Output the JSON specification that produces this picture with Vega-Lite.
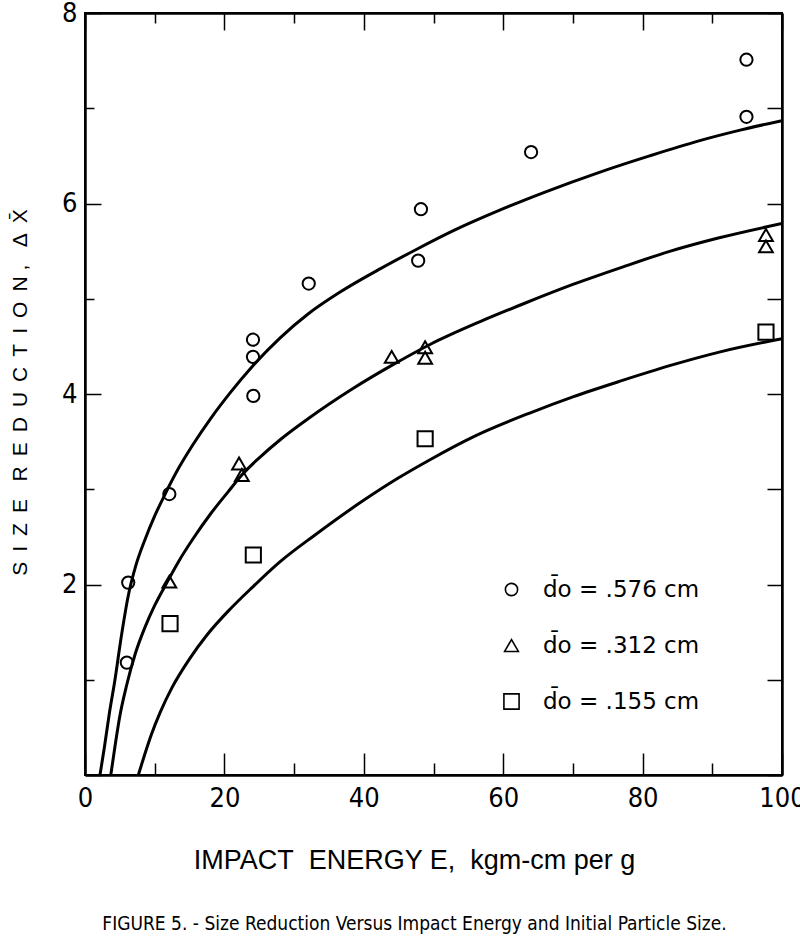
{
  "$schema": "https://vega.github.io/schema/vega-lite/v6.json",
  "width": 697,
  "height": 762,
  "autosize": "none",
  "padding": {"left": 85, "top": 13, "right": 18, "bottom": 167},
  "background": "white",
  "title": {
    "text": "FIGURE 5. - Size Reduction Versus Impact Energy and Initial Particle Size.",
    "orient": "bottom",
    "anchor": "middle",
    "font": "DejaVu Sans Condensed, DejaVu Sans",
    "fontSize": 19,
    "fontWeight": "normal",
    "color": "black",
    "offset": 42,
    "dx": -19
  },
  "config": {
    "view": {"stroke": "black", "strokeWidth": 2},
    "axis": {
      "domainColor": "black",
      "domainWidth": 2.5,
      "tickColor": "black",
      "tickWidth": 1.5,
      "labelColor": "black",
      "titleColor": "black",
      "grid": false,
      "labelOverlap": false,
      "labelFlush": false
    }
  },
  "datasets": {
    "curves": [
      {"c": "A", "e": 2.15, "dx": 0}, {"c": "A", "e": 2.8, "dx": 0.3}, {"c": "A", "e": 3.5, "dx": 0.65},
      {"c": "A", "e": 4.3, "dx": 1.0}, {"c": "A", "e": 5.2, "dx": 1.45}, {"c": "A", "e": 6.2, "dx": 1.88},
      {"c": "A", "e": 7.3, "dx": 2.2}, {"c": "A", "e": 8.6, "dx": 2.47}, {"c": "A", "e": 10, "dx": 2.72},
      {"c": "A", "e": 11.5, "dx": 2.95}, {"c": "A", "e": 13.5, "dx": 3.23}, {"c": "A", "e": 15.5, "dx": 3.47},
      {"c": "A", "e": 18, "dx": 3.74}, {"c": "A", "e": 20.9, "dx": 4.02}, {"c": "A", "e": 24, "dx": 4.29},
      {"c": "A", "e": 28, "dx": 4.59}, {"c": "A", "e": 32, "dx": 4.84}, {"c": "A", "e": 36.6, "dx": 5.07},
      {"c": "A", "e": 42, "dx": 5.3}, {"c": "A", "e": 47.6, "dx": 5.52}, {"c": "A", "e": 53, "dx": 5.72},
      {"c": "A", "e": 59.5, "dx": 5.93}, {"c": "A", "e": 66, "dx": 6.12}, {"c": "A", "e": 73.9, "dx": 6.33},
      {"c": "A", "e": 81, "dx": 6.5}, {"c": "A", "e": 88.2, "dx": 6.66}, {"c": "A", "e": 94, "dx": 6.77},
      {"c": "A", "e": 100, "dx": 6.87},
      {"c": "B", "e": 3.7, "dx": 0}, {"c": "B", "e": 4.3, "dx": 0.3}, {"c": "B", "e": 5.0, "dx": 0.62},
      {"c": "B", "e": 6.0, "dx": 0.95}, {"c": "B", "e": 7.2, "dx": 1.27}, {"c": "B", "e": 8.6, "dx": 1.55},
      {"c": "B", "e": 10, "dx": 1.78}, {"c": "B", "e": 11.6, "dx": 2.0}, {"c": "B", "e": 13.5, "dx": 2.25},
      {"c": "B", "e": 15.5, "dx": 2.48}, {"c": "B", "e": 18, "dx": 2.74}, {"c": "B", "e": 20.5, "dx": 2.97},
      {"c": "B", "e": 22.5, "dx": 3.15}, {"c": "B", "e": 25, "dx": 3.33}, {"c": "B", "e": 28, "dx": 3.52},
      {"c": "B", "e": 32, "dx": 3.74}, {"c": "B", "e": 38.5, "dx": 4.06}, {"c": "B", "e": 44, "dx": 4.3},
      {"c": "B", "e": 49.5, "dx": 4.52}, {"c": "B", "e": 56.7, "dx": 4.76}, {"c": "B", "e": 63, "dx": 4.95},
      {"c": "B", "e": 70, "dx": 5.15}, {"c": "B", "e": 77, "dx": 5.33}, {"c": "B", "e": 84, "dx": 5.5},
      {"c": "B", "e": 91, "dx": 5.64}, {"c": "B", "e": 100, "dx": 5.79},
      {"c": "C", "e": 7.65, "dx": 0}, {"c": "C", "e": 8.5, "dx": 0.2}, {"c": "C", "e": 9.5, "dx": 0.42},
      {"c": "C", "e": 10.8, "dx": 0.66}, {"c": "C", "e": 12.5, "dx": 0.92}, {"c": "C", "e": 15, "dx": 1.22},
      {"c": "C", "e": 17.5, "dx": 1.47}, {"c": "C", "e": 20.8, "dx": 1.74}, {"c": "C", "e": 24, "dx": 1.97},
      {"c": "C", "e": 28, "dx": 2.24}, {"c": "C", "e": 33, "dx": 2.52}, {"c": "C", "e": 39.5, "dx": 2.86},
      {"c": "C", "e": 45, "dx": 3.12}, {"c": "C", "e": 49.5, "dx": 3.31}, {"c": "C", "e": 56, "dx": 3.56},
      {"c": "C", "e": 63.8, "dx": 3.8}, {"c": "C", "e": 70, "dx": 3.97}, {"c": "C", "e": 77, "dx": 4.14},
      {"c": "C", "e": 84, "dx": 4.3}, {"c": "C", "e": 91, "dx": 4.44}, {"c": "C", "e": 100, "dx": 4.58}
    ],
    "points": [
      {"s": "d\u0304o = .576 cm", "e": 6.2, "dx": 2.02},
      {"s": "d\u0304o = .576 cm", "e": 6.0, "dx": 1.18},
      {"s": "d\u0304o = .576 cm", "e": 12.1, "dx": 2.95},
      {"s": "d\u0304o = .576 cm", "e": 24.1, "dx": 4.57},
      {"s": "d\u0304o = .576 cm", "e": 24.1, "dx": 4.39},
      {"s": "d\u0304o = .576 cm", "e": 24.15, "dx": 3.98},
      {"s": "d\u0304o = .576 cm", "e": 32.1, "dx": 5.16},
      {"s": "d\u0304o = .576 cm", "e": 48.2, "dx": 5.94},
      {"s": "d\u0304o = .576 cm", "e": 47.8, "dx": 5.4},
      {"s": "d\u0304o = .576 cm", "e": 64.0, "dx": 6.54},
      {"s": "d\u0304o = .576 cm", "e": 94.9, "dx": 7.51},
      {"s": "d\u0304o = .576 cm", "e": 94.9, "dx": 6.91},
      {"s": "d\u0304o = .312 cm", "e": 12.1, "dx": 2.03},
      {"s": "d\u0304o = .312 cm", "e": 22.1, "dx": 3.27},
      {"s": "d\u0304o = .312 cm", "e": 22.5, "dx": 3.15},
      {"s": "d\u0304o = .312 cm", "e": 44.0, "dx": 4.39},
      {"s": "d\u0304o = .312 cm", "e": 48.8, "dx": 4.49},
      {"s": "d\u0304o = .312 cm", "e": 48.8, "dx": 4.38},
      {"s": "d\u0304o = .312 cm", "e": 97.7, "dx": 5.67},
      {"s": "d\u0304o = .312 cm", "e": 97.7, "dx": 5.55},
      {"s": "d\u0304o = .155 cm", "e": 12.2, "dx": 1.59},
      {"s": "d\u0304o = .155 cm", "e": 24.15, "dx": 2.31},
      {"s": "d\u0304o = .155 cm", "e": 48.8, "dx": 3.53},
      {"s": "d\u0304o = .155 cm", "e": 97.7, "dx": 4.65}
    ]
  },
  "resolve": {"axis": {"x": "independent", "y": "independent"}},
  "layer": [
    {
      "data": {"name": "curves"},
      "mark": {"type": "line", "color": "black", "strokeWidth": 3, "interpolate": "monotone", "clip": true},
      "encoding": {
        "x": {
          "field": "e", "type": "quantitative",
          "scale": {"domain": [0, 100], "nice": false, "zero": false},
          "axis": {
            "orient": "bottom",
            "values": [0, 10, 20, 30, 40, 50, 60, 70, 80, 90, 100],
            "tickSize": {"condition": {"test": "datum.value % 20 === 0", "value": -22}, "value": -12},
            "labelExpr": "datum.value % 20 === 0 ? datum.label : ''",
            "labelFont": "DejaVu Sans Condensed, DejaVu Sans",
            "labelFontSize": 27,
            "labelPadding": 32,
            "title": "IMPACT\u00a0\u00a0ENERGY E,\u00a0\u00a0kgm-cm per g",
            "titleFont": "Liberation Sans",
            "titleFontSize": 27,
            "titleFontWeight": "normal",
            "titleX": 329,
            "titleY": 93,
            "titleAlign": "center",
            "titleBaseline": "alphabetic"
          }
        },
        "y": {
          "field": "dx", "type": "quantitative",
          "scale": {"domain": [0, 8], "nice": false},
          "axis": {
            "orient": "left",
            "values": [0, 1, 2, 3, 4, 5, 6, 7, 8],
            "tickSize": {"condition": {"test": "datum.value % 2 === 0", "value": -16}, "value": -9},
            "labelExpr": "datum.value > 0 && datum.value % 2 === 0 ? datum.label : ''",
            "labelFont": "DejaVu Sans Condensed, DejaVu Sans",
            "labelFontSize": 27,
            "labelPadding": 24,
            "title": "S\u00a0\u2009I\u00a0\u2009Z\u00a0\u2009E\u00a0\u00a0\u00a0R\u00a0\u2009E\u00a0\u2009D\u00a0\u2009U\u00a0\u2009C\u00a0\u2009T\u00a0\u2009I\u00a0\u2009O\u00a0\u2009N\u00a0,\u00a0\u00a0\u00a0\u0394\u00a0\u2009X\u0304",
            "titleFont": "Liberation Sans",
            "titleFontSize": 21,
            "titleFontWeight": "normal",
            "titleX": -65,
            "titleY": 379,
            "titleAlign": "center",
            "titleBaseline": "middle",
            "titleAngle": 270
          }
        },
        "detail": {"field": "c"}
      }
    },
    {
      "data": {"name": "points"},
      "mark": {"type": "point", "filled": false, "stroke": "black", "strokeWidth": 2, "opacity": 1},
      "encoding": {
        "x": {
          "field": "e", "type": "quantitative",
          "axis": {
            "orient": "top",
            "values": [0, 10, 20, 30, 40, 50, 60, 70, 80, 90, 100],
            "tickSize": {"condition": {"test": "datum.value % 20 === 0", "value": -17}, "value": -10},
            "labels": false,
            "title": null
          }
        },
        "y": {
          "field": "dx", "type": "quantitative",
          "axis": {
            "orient": "right",
            "values": [0, 1, 2, 3, 4, 5, 6, 7, 8],
            "tickSize": -15,
            "labels": false,
            "title": null
          }
        },
        "size": {
          "field": "s", "type": "nominal",
          "scale": {
            "domain": ["d\u0304o = .576 cm", "d\u0304o = .312 cm", "d\u0304o = .155 cm"],
            "range": [150, 230, 120]
          }
        },
        "shape": {
          "field": "s", "type": "nominal",
          "scale": {
            "domain": ["d\u0304o = .576 cm", "d\u0304o = .312 cm", "d\u0304o = .155 cm"],
            "range": ["circle", "triangle-up", "square"]
          },
          "legend": {
            "orient": "none",
            "legendX": 415,
            "legendY": 565,
            "title": null,
            "labelFont": "DejaVu Sans",
            "labelFontSize": 23,
            "labelColor": "black",
            "symbolStrokeColor": "black",
            "symbolStrokeWidth": 1.6,
            "rowPadding": 32,
            "labelOffset": 20
          }
        }
      }
    }
  ]
}
